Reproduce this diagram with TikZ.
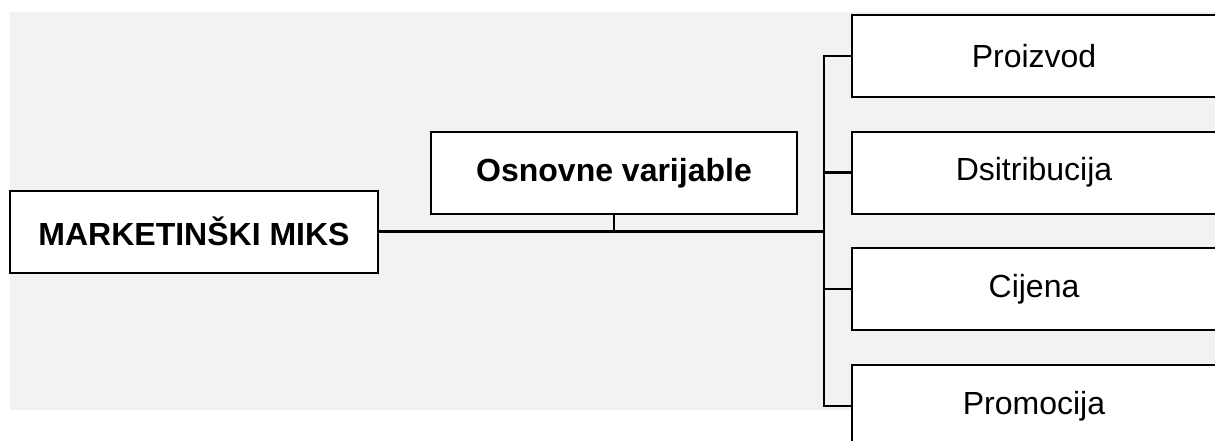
\documentclass[tikz,border=0pt]{standalone}
\usepackage{fontspec}
\setmainfont{Liberation Sans}
\definecolor{pozadina}{RGB}{242,242,242}
\tikzset{
  okvir/.style={draw=black, line width=2pt, fill=white, minimum height=82pt, inner sep=0pt, font=\fontsize{32}{38}\selectfont},
  glavni/.style={okvir, font=\fontsize{32}{38}\selectfont\bfseries},
  veza/.style={line width=2.2pt}
}
\begin{document}
\begin{tikzpicture}[x=1pt,y=-1pt]
\useasboundingbox (0,0) rectangle (1215,440);
\clip (0,0) rectangle (1215,440);
\fill[pozadina] (10,12) rectangle (1216,410);
\node[glavni, minimum width=368pt] (miks) at (194,231.5) {MARKETINŠKI MIKS};
\node[glavni, minimum width=366pt] (osnovne) at (614,173) {Osnovne varijable};
\node[okvir, minimum width=364pt] (proizvod) at (1034,56) {Proizvod};
\node[okvir, minimum width=364pt] (distr) at (1034,172.5) {Dsitribucija};
\node[okvir, minimum width=364pt] (cijena) at (1034,289) {Cijena};
\node[okvir, minimum width=364pt] (promo) at (1034,406) {Promocija};
\coordinate (sab) at (824,231.5);
\draw[veza, line width=2.6pt] (miks.east) -- (sab);
\draw[veza] (osnovne.south) -- (osnovne.south |- miks.east);
\draw[veza, line cap=rect] (sab |- proizvod.west) -- (sab |- promo.west);
\draw[veza] (sab |- proizvod.west) -- (proizvod.west);
\draw[veza] (sab |- distr.west) -- (distr.west);
\draw[veza] (sab |- cijena.west) -- (cijena.west);
\draw[veza] (sab |- promo.west) -- (promo.west);
\end{tikzpicture}
\end{document}
